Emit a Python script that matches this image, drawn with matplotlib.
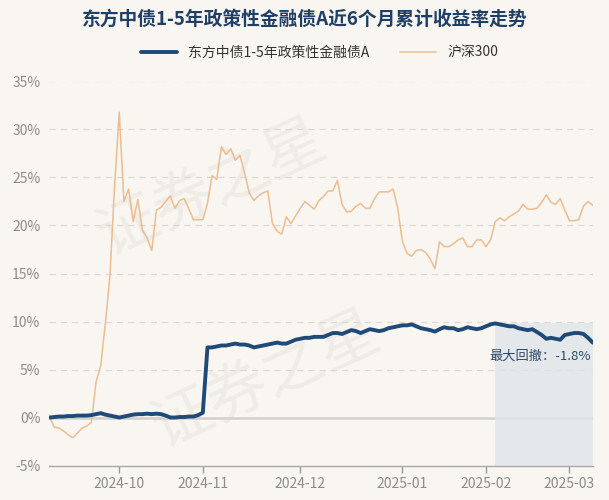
import matplotlib

matplotlib.use("Agg")
import matplotlib.pyplot as plt  # noqa: E402
import pandas as pd  # noqa: E402

plt.rcParams["font.family"] = ["Noto Sans CJK SC", "DejaVu Sans"]
plt.rcParams["axes.unicode_minus"] = False

C = dict(
    bg="#f9f6f1",
    fund="#1f4a78",
    csi="#ebbd8f",
    grid="#dcd8d2",
    tick="#8c8c8c",
    title="#1f3f66",
    dd="#e1e5ea",
)

# trading days 2024-09-06 .. 2025-03-10 (A-share holidays removed)
holidays = [
    "2024-09-16", "2024-09-17", "2024-10-01", "2024-10-02", "2024-10-03",
    "2024-10-04", "2024-10-07", "2025-01-01", "2025-01-28", "2025-01-29",
    "2025-01-30", "2025-01-31", "2025-02-03", "2025-02-04",
]
dates = pd.bdate_range("2024-09-06", "2025-03-10")
dates = dates[~dates.isin(pd.to_datetime(holidays))]

tick_labels = ["2024-10", "2024-11", "2024-12", "2025-01", "2025-02", "2025-03"]

# cumulative return, %
fund = [0.0, 0.05, 0.1, 0.1, 0.15, 0.15, 0.2, 0.2, 0.2, 0.25,
        0.35, 0.45, 0.3, 0.2, 0.1, 0.0, 0.1, 0.2, 0.3, 0.35,
        0.35, 0.4, 0.35, 0.4, 0.35, 0.2, 0.0, 0.0, 0.05, 0.05,
        0.1, 0.1, 0.25, 0.5, 7.3, 7.3, 7.4, 7.5, 7.5, 7.6,
        7.7, 7.6, 7.6, 7.5, 7.3, 7.4, 7.5, 7.6, 7.7, 7.8,
        7.7, 7.7, 7.9, 8.1, 8.2, 8.3, 8.3, 8.4, 8.4, 8.4,
        8.6, 8.8, 8.8, 8.7, 8.9, 9.1, 9.0, 8.8, 9.0, 9.2,
        9.1, 9.0, 9.1, 9.3, 9.4, 9.5, 9.6, 9.6, 9.7, 9.5,
        9.3, 9.2, 9.1, 8.95, 9.2, 9.4, 9.3, 9.3, 9.1, 9.2,
        9.4, 9.3, 9.2, 9.3, 9.5, 9.7, 9.8, 9.7, 9.6, 9.5,
        9.5, 9.3, 9.2, 9.1, 9.2, 8.9, 8.6, 8.2, 8.3, 8.2,
        8.1, 8.6, 8.7, 8.8, 8.8, 8.7, 8.3, 7.8]
csi300 = [0.0, -1.0, -1.1, -1.4, -1.8, -2.1, -1.6, -1.1, -0.9, -0.5,
          3.7, 5.4, 9.8, 14.8, 24.2, 31.8, 22.5, 23.8, 20.4, 22.7,
          19.5, 18.7, 17.4, 21.6, 21.9, 22.5, 23.1, 21.8, 22.6, 22.8,
          21.7, 20.6, 20.6, 20.6, 22.3, 25.2, 24.8, 28.2, 27.4, 28.0,
          26.8, 27.3, 25.5, 23.4, 22.6, 23.1, 23.4, 23.6, 20.2, 19.4,
          19.1, 20.9, 20.2, 21.0, 21.8, 22.5, 22.1, 21.7, 22.6, 23.0,
          23.6, 23.6, 24.7, 22.2, 21.4, 21.5, 22.0, 22.3, 21.8, 21.8,
          22.8, 23.5, 23.5, 23.5, 23.8, 21.8, 18.3, 17.1, 16.8, 17.4,
          17.5, 17.2, 16.5, 15.5, 18.3, 17.8, 17.8, 18.1, 18.5, 18.7,
          17.8, 17.8, 18.5, 18.5, 17.8, 18.5, 20.4, 20.8, 20.5, 20.9,
          21.2, 21.5, 22.2, 21.7, 21.7, 21.8, 22.4, 23.2, 22.4, 22.2,
          22.8, 21.6, 20.5, 20.5, 20.6, 22.0, 22.5, 22.1]

fund_name = "东方中债1-5年政策性金融债A"
csi_name = "沪深300"

s = pd.Series(fund)
x = list(range(len(s)))
peak_i = int(s.idxmax())
dd = (1 + s.iloc[-1] / 100) / (1 + s.iloc[peak_i] / 100) - 1

fig = plt.figure(figsize=(6.09, 5.0), dpi=100, facecolor=C["bg"])
ax = fig.add_axes([0.080, 0.069, 0.894, 0.768], facecolor=C["bg"])

# faint watermark
for wx, wy in [(0.30, 0.72), (0.40, 0.22)]:
    ax.text(wx, wy, "证券之星", transform=ax.transAxes, fontsize=44, rotation=25,
            color="#efebe6", ha="center", va="center", zorder=0)

for v in range(5, 36, 5):
    ax.axhline(v, color=C["grid"], lw=0.9, ls=(0, (5, 4)), zorder=1)
ax.axhline(0, color="#d2d0cc", lw=1.8, zorder=1)

ax.fill_between([peak_i, x[-1]], -5, s.iloc[peak_i], color=C["dd"], alpha=0.8,
                lw=0, zorder=1)

ax.plot(x, csi300, color=C["csi"], lw=1.1, zorder=3, label=csi_name)
ax.plot(x, fund, color=C["fund"], lw=2.8, zorder=4, label=fund_name,
        solid_capstyle="round")

ax.annotate(f"最大回撤：{dd * 100:.1f}%", (x[-1], s.iloc[-1]),
            textcoords="offset points", xytext=(-1, -5), ha="right", va="top",
            fontsize=9.5, color="#2b4a6d", zorder=5)

ticks = [dates.get_indexer([dates[dates.strftime("%Y-%m") == t][0]])[0]
         for t in tick_labels]
ax.set_xticks(ticks)
ax.set_xticklabels(tick_labels)
ax.set_xlim(-0.2, len(x) - 0.9)
ax.set_ylim(-5, 35)
ax.set_yticks(range(-5, 36, 5))
ax.set_yticklabels([f"{v}%" for v in range(-5, 36, 5)])
ax.tick_params(axis="x", colors="#999999", labelcolor=C["tick"], labelsize=10,
               length=5, width=1, pad=3)
ax.tick_params(axis="y", length=0, labelcolor=C["tick"], labelsize=10, pad=6)
for sp in ["top", "right", "left"]:
    ax.spines[sp].set_visible(False)
ax.spines["bottom"].set_color("#a8a8a8")
ax.spines["bottom"].set_linewidth(1.0)

fig.text(0.5, 0.962, fund_name + "近6个月累计收益率走势", ha="center",
         va="center", fontsize=13.5, fontweight="bold", color=C["title"])
fig.legend(loc="center", bbox_to_anchor=(0.525, 0.895), ncol=2, frameon=False,
           fontsize=10, handlelength=2.6, columnspacing=2.2,
           labelcolor="#333333", reverse=True)

fig.savefig("out.png", dpi=100, facecolor=C["bg"])
